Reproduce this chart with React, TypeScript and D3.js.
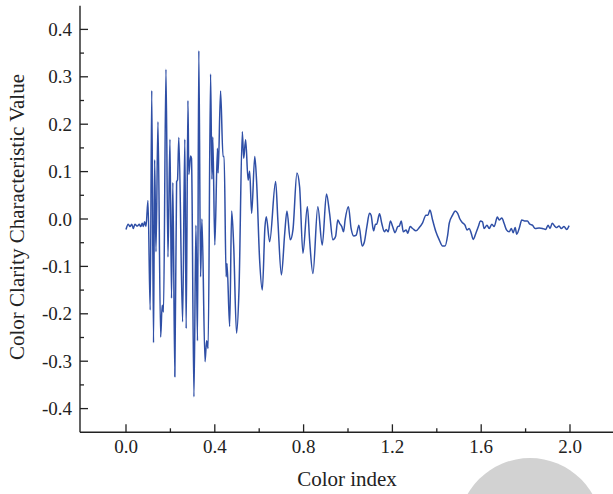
import React from "react";
import * as d3 from "d3";

const colorIndex: number[] = [
  0.0, 0.01, 0.018, 0.026, 0.033, 0.04, 0.051, 0.06, 0.066, 0.073, 0.078, 0.084, 0.09,
  0.099, 0.109, 0.116, 0.124, 0.129, 0.135, 0.144, 0.156, 0.163, 0.169, 0.18, 0.189,
  0.198, 0.205, 0.211, 0.22, 0.228, 0.232, 0.238, 0.255, 0.265, 0.271, 0.279, 0.283,
  0.291, 0.295, 0.306, 0.315, 0.322, 0.328, 0.336, 0.342, 0.356, 0.363, 0.37, 0.381,
  0.387, 0.391, 0.4, 0.412, 0.415, 0.426, 0.437, 0.442, 0.451, 0.455, 0.467, 0.476,
  0.485, 0.498, 0.509, 0.524, 0.53, 0.539, 0.55, 0.557, 0.566, 0.58, 0.588, 0.602,
  0.614, 0.626, 0.632, 0.647, 0.674, 0.684, 0.7, 0.715, 0.725, 0.74, 0.752, 0.77,
  0.782, 0.797, 0.817, 0.827, 0.842, 0.864, 0.884, 0.903, 0.917, 0.932, 0.944, 0.954,
  0.962, 0.972, 0.98, 0.987, 1.002, 1.014, 1.026, 1.037, 1.049, 1.064, 1.074, 1.085,
  1.097, 1.104, 1.115, 1.124, 1.129, 1.142, 1.152, 1.164, 1.172, 1.181, 1.191, 1.201,
  1.212, 1.224, 1.231, 1.24, 1.249, 1.262, 1.269, 1.28, 1.291, 1.306, 1.321, 1.336,
  1.351, 1.36, 1.369, 1.381, 1.396, 1.411, 1.426, 1.437, 1.449, 1.456, 1.471, 1.483,
  1.494, 1.504, 1.516, 1.527, 1.536, 1.546, 1.555, 1.564, 1.576, 1.588, 1.596, 1.606,
  1.613, 1.626, 1.636, 1.648, 1.658, 1.673, 1.681, 1.693, 1.703, 1.714, 1.726, 1.736,
  1.744, 1.753, 1.76, 1.771, 1.783, 1.795, 1.808, 1.819, 1.831, 1.843, 1.861, 1.876,
  1.891, 1.901, 1.91, 1.92, 1.931, 1.938, 1.951, 1.961, 1.973, 1.985, 1.996,
];

const clarityValue: number[] = [
  -0.022, -0.011, -0.016, -0.011, -0.02, -0.011, -0.015, -0.011, -0.016, -0.009, -0.016,
  -0.006, -0.016, 0.039, -0.192, 0.271, -0.261, 0.125, -0.069, 0.205, -0.249, -0.182,
  -0.196, 0.316, -0.08, 0.168, -0.167, 0.077, -0.333, 0.079, 0.082, 0.172, -0.217,
  0.168, -0.231, 0.25, 0.094, 0.133, 0.128, -0.375, -0.013, -0.257, 0.355, -0.122, 0.0,
  -0.301, -0.257, -0.273, 0.306, 0.084, 0.173, -0.055, 0.149, 0.097, 0.27, 0.132, 0.132,
  -0.122, -0.094, -0.227, 0.017, -0.055, -0.241, -0.15, 0.184, 0.128, 0.167, 0.082,
  0.101, 0.012, 0.132, 0.082, -0.087, -0.15, -0.016, 0.005, -0.048, 0.079, -0.002,
  -0.118, -0.03, 0.017, -0.044, -0.023, 0.097, 0.068, -0.072, 0.026, -0.044, -0.115,
  0.026, -0.055, 0.053, 0.012, -0.044, -0.037, -0.002, -0.009, -0.016, -0.027, -0.002,
  0.026, -0.02, -0.036, -0.034, -0.013, -0.057, -0.048, -0.016, 0.012, 0.008, -0.025,
  -0.011, -0.011, 0.011, -0.009, -0.027, -0.022, -0.027, -0.004, -0.016, -0.029, -0.016,
  -0.015, -0.004, -0.027, -0.023, -0.03, -0.016, -0.02, -0.025, -0.018, -0.008, 0.008,
  0.008, 0.019, -0.002, -0.027, -0.044, -0.057, -0.057, -0.034, -0.009, 0.008, 0.017,
  0.012, 0.0, -0.008, -0.013, -0.023, -0.02, -0.03, -0.043, -0.03, -0.015, -0.004,
  -0.006, -0.02, -0.013, -0.02, -0.011, -0.016, 0.004, -0.002, 0.002, -0.009, -0.023,
  -0.027, -0.02, -0.029, -0.018, -0.032, -0.02, -0.002, -0.004, -0.004, -0.011, -0.013,
  -0.02, -0.019, -0.02, -0.022, -0.013, -0.02, -0.009, -0.015, -0.018, -0.015, -0.02,
  -0.016, -0.022, -0.014,
];

const xMajorTicks: number[] = [0.0, 0.4, 0.8, 1.2, 1.6, 2.0];
const xMinorTicks: number[] = [0.2, 0.6, 1.0, 1.4, 1.8];
const yMajorTicks: number[] = [-0.4, -0.3, -0.2, -0.1, 0.0, 0.1, 0.2, 0.3, 0.4];
const yMinorTicks: number[] = [-0.35, -0.25, -0.15, -0.05, 0.05, 0.15, 0.25, 0.35];

const xTitle = "Color index";
const yTitle = "Color Clarity Characteristic Value";

const W = 613;
const H = 494;
const axisLeft = 80;
const axisRight = 613;
const axisTop = 5.7;
const axisBottom = 432.3;

export default function App() {
  const x = d3.scaleLinear().domain([0, 2]).range([126, 570]);
  const y = d3.scaleLinear().domain([-0.45, 0.45]).range([axisBottom, axisTop]);
  const pts: [number, number][] = colorIndex.map((c, i) => [c, clarityValue[i]]);
  const line = d3
    .line<[number, number]>()
    .x((d) => x(d[0]))
    .y((d) => y(d[1]))
    .curve(d3.curveMonotoneX);
  const font = "'Liberation Serif', 'Times New Roman', serif";
  const axisColor = "#222";
  const fmt = (v: number) => {
    const s = Math.abs(v).toFixed(1);
    return v < -1e-9 ? "-" + s : s;
  };
  return (
    <svg
      width={W}
      height={H}
      style={{ position: "absolute", left: 0, top: 0, background: "#fff" }}
    >
      <circle cx={530} cy={530} r={72} fill="#d2d2d2" />
      <path d={line(pts) || ""} fill="none" stroke="#2f4fa6" strokeWidth={1.5} strokeLinejoin="round" />
      <line x1={axisLeft} x2={axisLeft} y1={axisTop} y2={axisBottom} stroke={axisColor} strokeWidth={1.4} />
      <line x1={axisLeft} x2={axisRight} y1={axisBottom} y2={axisBottom} stroke={axisColor} strokeWidth={1.4} />
      {yMajorTicks.map((t) => (
        <g key={"ym" + t}>
          <line x1={axisLeft} x2={axisLeft + 8} y1={y(t)} y2={y(t)} stroke={axisColor} strokeWidth={1.3} />
          <text x={72} y={y(t)} dy="0.35em" textAnchor="end" fontFamily={font} fontSize={19} fill="#222">
            {fmt(t)}
          </text>
        </g>
      ))}
      {yMinorTicks.map((t) => (
        <line key={"yn" + t} x1={axisLeft} x2={axisLeft + 4} y1={y(t)} y2={y(t)} stroke={axisColor} strokeWidth={1.3} />
      ))}
      {xMajorTicks.map((t) => (
        <g key={"xm" + t}>
          <line x1={x(t)} x2={x(t)} y1={axisBottom} y2={axisBottom - 8} stroke={axisColor} strokeWidth={1.3} />
          <text x={x(t)} y={453} textAnchor="middle" fontFamily={font} fontSize={19} fill="#222">
            {fmt(t)}
          </text>
        </g>
      ))}
      {xMinorTicks.map((t) => (
        <line key={"xn" + t} x1={x(t)} x2={x(t)} y1={axisBottom} y2={axisBottom - 4} stroke={axisColor} strokeWidth={1.3} />
      ))}
      <text x={347} y={486} textAnchor="middle" fontFamily={font} fontSize={21} fill="#222">
        {xTitle}
      </text>
      <text
        transform={`translate(24, 217) rotate(-90)`}
        textAnchor="middle"
        fontFamily={font}
        fontSize={21}
        fill="#222"
      >
        {yTitle}
      </text>
    </svg>
  );
}
